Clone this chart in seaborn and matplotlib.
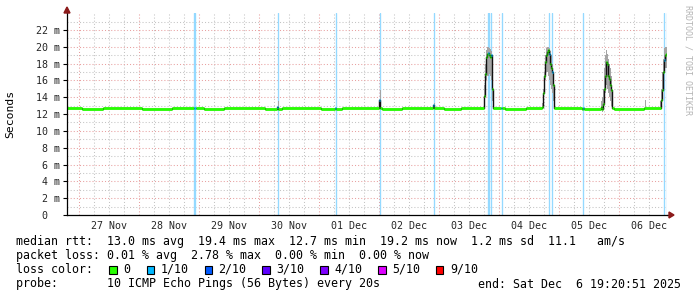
import numpy as np
import pandas as pd
import matplotlib
matplotlib.use("Agg")
import matplotlib.pyplot as plt
import matplotlib.dates as mdates
import matplotlib.transforms as mtrans
from matplotlib.patches import Rectangle
import seaborn as sns

# ---------------- data ----------------
start_time = "2025-11-26 19:20:51"
end_time = "2025-12-06 19:20:51"

median_time = [
    "2025-11-26 19:20", "2025-11-27 01:12", "2025-11-27 09:36", "2025-11-28 01:12",
    "2025-11-28 13:12", "2025-11-28 22:00", "2025-11-28 22:48", "2025-11-29 02:00",
    "2025-11-29 10:00", "2025-11-30 02:24", "2025-11-30 07:12", "2025-11-30 07:36",
    "2025-11-30 09:12", "2025-12-01 00:48", "2025-12-01 06:36", "2025-12-01 07:00",
    "2025-12-01 09:12", "2025-12-02 00:00", "2025-12-02 00:24", "2025-12-02 01:12",
    "2025-12-02 09:12", "2025-12-02 21:48", "2025-12-02 22:12", "2025-12-03 02:00",
    "2025-12-03 08:48", "2025-12-03 18:00", "2025-12-03 18:24", "2025-12-03 18:48",
    "2025-12-03 19:12", "2025-12-03 19:36", "2025-12-03 20:00", "2025-12-03 20:24",
    "2025-12-03 20:48", "2025-12-03 21:12", "2025-12-03 21:36", "2025-12-04 01:00",
    "2025-12-04 01:24", "2025-12-04 02:24", "2025-12-04 11:00", "2025-12-04 17:12",
    "2025-12-04 17:36", "2025-12-04 18:00", "2025-12-04 18:24", "2025-12-04 18:48",
    "2025-12-04 19:12", "2025-12-04 19:36", "2025-12-04 20:00", "2025-12-04 20:24",
    "2025-12-04 20:48", "2025-12-04 21:12", "2025-12-04 21:36", "2025-12-04 22:00",
    "2025-12-05 09:12", "2025-12-05 09:36", "2025-12-05 10:00", "2025-12-05 16:48",
    "2025-12-05 17:12", "2025-12-05 17:36", "2025-12-05 18:00", "2025-12-05 18:24",
    "2025-12-05 18:48", "2025-12-05 19:12", "2025-12-05 19:36", "2025-12-05 20:00",
    "2025-12-05 20:24", "2025-12-05 20:48", "2025-12-05 21:12", "2025-12-05 22:00",
    "2025-12-06 10:00", "2025-12-06 16:48", "2025-12-06 17:12", "2025-12-06 17:36",
    "2025-12-06 18:00", "2025-12-06 18:24", "2025-12-06 18:48", "2025-12-06 19:12",
    "2025-12-06 19:20",
]
median_ms = [
    12.75, 12.63, 12.75, 12.63,
    12.75, 12.75, 12.75, 12.63,
    12.75, 12.63, 12.90, 12.63,
    12.75, 12.63, 12.75, 12.63,
    12.75, 13.70, 12.75, 12.63,
    12.75, 13.10, 12.75, 12.63,
    12.75, 14.10, 16.80, 18.80,
    19.20, 19.30, 19.00, 18.80,
    19.00, 15.00, 12.75, 12.75,
    12.75, 12.63, 12.75, 12.90,
    14.50, 16.50, 18.20, 19.00,
    19.40, 19.60, 19.20, 18.00,
    17.50, 17.00, 15.50, 12.75,
    12.63, 12.75, 12.63, 12.90,
    12.60, 13.20, 15.00, 16.50,
    18.20, 18.00, 16.50, 16.20,
    15.50, 14.90, 12.75, 12.63,
    12.75, 13.70, 14.90, 17.00,
    18.40, 19.00, 19.20, 19.00,
    19.00,
]
# lost pings (out of 10) for each median sample
median_loss = [
    0, 0, 0, 0,
    0, 1, 0, 0,
    0, 0, 1, 0,
    0, 0, 1, 0,
    0, 1, 0, 0,
    0, 1, 0, 0,
    0, 0, 0, 0,
    0, 1, 0, 0,
    1, 0, 0, 1,
    0, 0, 0, 0,
    0, 0, 0, 0,
    0, 0, 1, 0,
    0, 1, 0, 0,
    0, 1, 0, 0,
    0, 0, 0, 0,
    0, 0, 0, 0,
    0, 0, 0, 0,
    0, 0, 0, 0,
    1, 0, 0, 1,
    1,
]

smoke_time = [
    "2025-11-30 07:36", "2025-11-30 08:00",
    "2025-12-02 00:24", "2025-12-02 00:48",
    "2025-12-02 22:00", "2025-12-02 22:24",
    "2025-12-03 17:36", "2025-12-03 18:00", "2025-12-03 18:24", "2025-12-03 18:48",
    "2025-12-03 19:12", "2025-12-03 19:36", "2025-12-03 20:00", "2025-12-03 20:24",
    "2025-12-03 20:48", "2025-12-03 21:12", "2025-12-03 21:36",
    "2025-12-04 17:12", "2025-12-04 17:36", "2025-12-04 18:00", "2025-12-04 18:24",
    "2025-12-04 18:48", "2025-12-04 19:12", "2025-12-04 19:36", "2025-12-04 20:00",
    "2025-12-04 20:24", "2025-12-04 20:48", "2025-12-04 21:12", "2025-12-04 21:36",
    "2025-12-04 22:00",
    "2025-12-05 16:48", "2025-12-05 17:12", "2025-12-05 17:36", "2025-12-05 18:00",
    "2025-12-05 18:24", "2025-12-05 18:48", "2025-12-05 19:12", "2025-12-05 19:36",
    "2025-12-05 20:00", "2025-12-05 20:24", "2025-12-05 20:48", "2025-12-05 21:12",
    "2025-12-06 10:24", "2025-12-06 10:48",
    "2025-12-06 16:24", "2025-12-06 16:48", "2025-12-06 17:12", "2025-12-06 17:36",
    "2025-12-06 18:00", "2025-12-06 18:24", "2025-12-06 18:48", "2025-12-06 19:12",
    "2025-12-06 19:20",
]
smoke_lo = [
    12.7, 12.75,
    12.7, 12.75,
    12.7, 12.75,
    12.75, 13.0, 14.5, 16.0,
    16.5, 16.5, 16.8, 16.5,
    16.0, 13.5, 12.75,
    12.7, 13.0, 14.5, 16.0,
    17.0, 17.0, 16.5, 16.0,
    15.5, 15.0, 14.5, 13.5,
    12.75,
    12.5, 12.3, 12.5, 13.5,
    14.5, 15.5, 15.0, 14.5,
    14.0, 13.5, 13.0, 12.75,
    12.7, 12.75,
    12.5, 12.8, 13.5, 15.5,
    17.0, 17.5, 17.5, 17.0,
    17.0,
]
smoke_hi = [
    13.5, 12.75,
    14.9, 12.75,
    13.3, 12.75,
    12.75, 15.5, 18.0, 19.6,
    20.0, 20.0, 19.8, 19.7,
    19.5, 17.5, 12.75,
    13.3, 15.0, 17.0, 19.0,
    19.8, 20.0, 20.0, 19.8,
    19.5, 19.0, 18.0, 17.0,
    12.75,
    13.6, 14.0, 15.0, 17.5,
    19.0, 19.6, 19.2, 18.5,
    18.0, 17.5, 16.5, 12.75,
    13.7, 12.75,
    13.5, 15.0, 17.0, 18.5,
    19.8, 20.0, 20.0, 19.8,
    19.8,
]

loss_bar_time = [
    "2025-11-28 22:00", "2025-11-28 22:36", "2025-11-30 07:36", "2025-12-01 06:48",
    "2025-12-02 00:24", "2025-12-02 22:00", "2025-12-03 19:36", "2025-12-03 20:12",
    "2025-12-03 21:00", "2025-12-04 01:12", "2025-12-04 20:12", "2025-12-04 21:12",
    "2025-12-05 09:48", "2025-12-06 18:12", "2025-12-06 19:10",
]

loss_labels = ["0", "1/10", "2/10", "3/10", "4/10", "5/10", "9/10"]
loss_colors = ["#26ff00", "#00b8ff", "#0059ff", "#5e00ff", "#7e00ff", "#dd00ff", "#ff0000"]

y_ticks_ms = [0, 2, 4, 6, 8, 10, 12, 14, 16, 18, 20, 22]
day_labels = ["27 Nov", "28 Nov", "29 Nov", "30 Nov", "01 Dec",
              "02 Dec", "03 Dec", "04 Dec", "05 Dec", "06 Dec"]

legend_lines = [
    "median rtt:  13.0 ms avg  19.4 ms max  12.7 ms min  19.2 ms now  1.2 ms sd  11.1   am/s",
    "packet loss: 0.01 % avg  2.78 % max  0.00 % min  0.00 % now",
    "loss color:",
    "probe:       10 ICMP Echo Pings (56 Bytes) every 20s",
]
end_text = "end: Sat Dec  6 19:20:51 2025"
watermark = "RRDTOOL / TOBI OETIKER"

# ---------------- figure ----------------
sns.set_theme(style="white")
plt.rcParams['font.family'] = ['DejaVu Sans Mono', 'DejaVu Sans']

W, H = 697, 297
fig = plt.figure(figsize=(W / 100, H / 100), dpi=100)
fig.patch.set_facecolor("white")

def fx(px):
    return px / W

def fy(py):
    return 1 - py / H

ax_left, ax_right, ax_top, ax_bottom = 67, 667, 13, 215
ax = fig.add_axes([fx(ax_left), fy(ax_bottom), (ax_right - ax_left) / W, (ax_bottom - ax_top) / H])
ax.set_facecolor("white")

t0 = mdates.date2num(pd.Timestamp(start_time))
t1 = mdates.date2num(pd.Timestamp(end_time))
ax.set_xlim(t0, t1)
ax.set_ylim(0, 24.02)

# grid
for tt in pd.date_range("2025-11-26 00:00", "2025-12-07 00:00", freq="6h"):
    x = mdates.date2num(tt)
    if t0 < x < t1:
        major = tt.hour == 0
        ax.axvline(x, color="#e8a0a0" if major else "#c4c4c4", lw=0.75,
                   ls=(0, (1, 2)), zorder=0)
for v in range(1, 24):
    ax.axhline(v, color="#e8a0a0" if v % 2 == 0 else "#c4c4c4", lw=0.75,
               ls=(0, (1, 2)), zorder=0)

# loss bars
for lt in loss_bar_time:
    ax.axvline(mdates.date2num(pd.Timestamp(lt)), color="#94d9ff", lw=0.95, zorder=1)

mt = mdates.date2num(pd.to_datetime(median_time))
st = mdates.date2num(pd.to_datetime(smoke_time))
ms = np.array(median_ms)

# smoke
ax.fill_between(st, smoke_lo, smoke_hi, step="post", color="#a4a4a4", lw=0, zorder=2)

# median connectors (dark)
df = pd.DataFrame({"t": mt, "ms": ms})
sns.lineplot(data=df, x="t", y="ms", drawstyle="steps-post", color="#111111",
             lw=1.0, estimator=None, ax=ax, zorder=3)

# colored median dashes
seg_end = list(mt[1:]) + [t1]
cols = [loss_colors[l] for l in median_loss]
ax.hlines(ms, mt, seg_end, colors=cols, lw=2.0, zorder=4)

ax.set_xlabel("")
ax.set_ylabel("")

# ticks
ax.set_yticks(y_ticks_ms)
ax.set_yticklabels([("%d m" % v) if v else "0" for v in y_ticks_ms])
ax.tick_params(axis="y", which="major", length=2.9, width=0.8, pad=2.2,
               labelsize=7.2, color="black", direction="out", left=True)
noon = [mdates.date2num(pd.Timestamp(f"{d} 12:00")) for d in
        pd.date_range("2025-11-27", "2025-12-06", freq="D").strftime("%Y-%m-%d")]
ax.set_xticks(noon)
ax.set_xticklabels(day_labels)
ax.tick_params(axis="x", which="major", length=0, pad=4.0, labelsize=7.2)
ax.grid(False)

# shift the zero label to the digit column
zero_lab = ax.get_yticklabels()[0]
zero_lab.set_transform(zero_lab.get_transform() +
                       mtrans.ScaledTranslation(-13 / 100, 0, fig.dpi_scale_trans))

for s in ["top", "right"]:
    ax.spines[s].set_visible(False)
for s in ["left", "bottom"]:
    ax.spines[s].set_color("#000000")
    ax.spines[s].set_linewidth(0.9)
    ax.spines[s].set_zorder(5)

# axis arrows
ax.plot([1.0, 1.006], [0, 0], color="black", lw=0.9, transform=ax.transAxes, clip_on=False)
ax.plot([0, 0], [1.0, 1.01], color="black", lw=0.9, transform=ax.transAxes, clip_on=False)
fig.add_artist(plt.Polygon([(fx(669), fy(212)), (fx(669), fy(218)), (fx(674), fy(215))],
                           closed=True, color="#8b1a1a", transform=fig.transFigure))
fig.add_artist(plt.Polygon([(fx(64), fy(13)), (fx(70), fy(13)), (fx(67), fy(7))],
                           closed=True, color="#8b1a1a", transform=fig.transFigure))

# y label and watermark
fig.text(fx(10.7), fy(113.5), "Seconds", rotation=90, ha="center", va="center",
         fontsize=8.2, color="black")
fig.text(fx(688), fy(5), watermark, rotation=270, ha="center", va="top",
         fontsize=6.0, color="#b4b4b4")

# legend text
LFS = 8.4
line_y = [241, 255.5, 269.5, 284]
for txt, yy in zip(legend_lines, line_y):
    fig.text(fx(16), fy(yy), txt, ha="left", va="center", fontsize=LFS, color="black")
fig.text(fx(680.5), fy(line_y[3]), end_text, ha="right", va="center", fontsize=LFS, color="black")

box_x = [109, 146.7, 204.5, 262, 320, 378, 436]
for bx, lab, col in zip(box_x, loss_labels, loss_colors):
    fig.add_artist(Rectangle((fx(bx), fy(273.5)), 7.5 / W, 8 / H, facecolor=col,
                             edgecolor="black", lw=0.8, transform=fig.transFigure))
    fig.text(fx(bx + 14), fy(line_y[2]), lab, ha="left", va="center", fontsize=LFS, color="black")

fig.savefig("out.png", dpi=100, facecolor="white")
